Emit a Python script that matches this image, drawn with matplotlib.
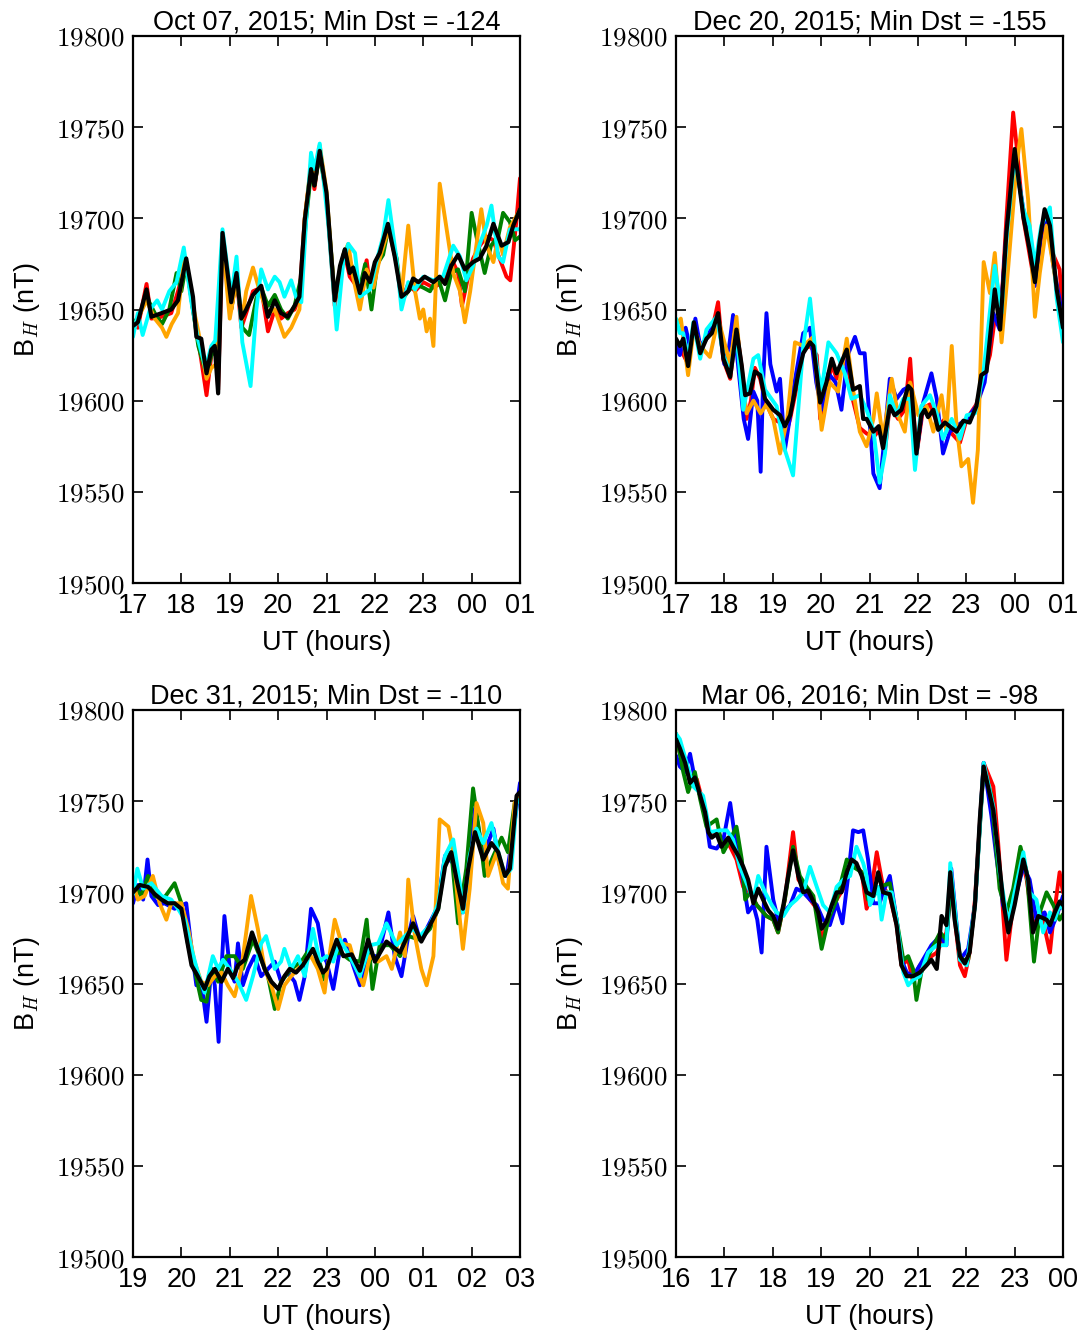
import numpy as np
import matplotlib
matplotlib.use('Agg')
import matplotlib.pyplot as plt

plt.rcParams['font.family'] = ['Liberation Sans', 'DejaVu Sans']
plt.rcParams['mathtext.fontset'] = 'cm'

# ---- panel 1: Oct 07, 2015 (hours after 17 UT) ----
black1_t = [0, 0.1, 0.28, 0.38, 0.59, 0.79, 0.93, 1.10, 1.24, 1.31, 1.41, 1.52, 1.62, 1.69, 1.76, 1.85, 2.03, 2.14, 2.24, 2.34, 2.48, 2.65, 2.79, 2.93, 3.06, 3.20, 3.34, 3.44, 3.55, 3.68, 3.75, 3.86, 4.0, 4.17, 4.28, 4.38, 4.48, 4.55, 4.69, 4.79, 4.90, 5.0, 5.1, 5.27, 5.41, 5.55, 5.69, 5.79, 5.90, 6.03, 6.21, 6.34, 6.45, 6.58, 6.72, 6.86, 7.03, 7.17, 7.31, 7.45, 7.62, 7.76, 7.86, 8.0]
black1_v = [19641, 19643, 19661, 19646, 19648, 19650, 19655, 19678, 19657, 19635, 19634, 19615, 19628, 19630, 19604, 19692, 19654, 19670, 19645, 19650, 19658, 19663, 19646, 19655, 19648, 19646, 19652, 19657, 19699, 19727, 19718, 19737, 19714, 19655, 19674, 19683, 19670, 19673, 19659, 19670, 19665, 19676, 19681, 19697, 19679, 19657, 19660, 19667, 19665, 19668, 19665, 19668, 19664, 19674, 19680, 19672, 19676, 19678, 19685, 19697, 19685, 19687, 19696, 19705]
red1_t = [0, 0.1, 0.28, 0.38, 0.59, 0.79, 0.93, 1.10, 1.24, 1.35, 1.52, 1.62, 1.72, 1.76, 1.85, 2.03, 2.14, 2.24, 2.34, 2.48, 2.65, 2.79, 2.93, 3.06, 3.20, 3.34, 3.44, 3.55, 3.68, 3.75, 3.86, 4.0, 4.17, 4.28, 4.38, 4.48, 4.59, 4.69, 4.83, 4.90, 5.03, 5.17, 5.28, 5.45, 5.55, 5.69, 5.83, 6.0, 6.21, 6.34, 6.45, 6.58, 6.72, 6.80, 6.93, 7.03, 7.17, 7.31, 7.45, 7.55, 7.72, 7.80, 7.93, 8.0]
red1_v = [19643, 19640, 19664, 19645, 19646, 19648, 19660, 19676, 19650, 19633, 19603, 19625, 19628, 19606, 19690, 19650, 19668, 19640, 19648, 19660, 19662, 19638, 19650, 19645, 19648, 19650, 19657, 19700, 19728, 19716, 19738, 19712, 19652, 19672, 19680, 19668, 19664, 19660, 19677, 19662, 19672, 19684, 19696, 19675, 19655, 19664, 19660, 19665, 19662, 19664, 19668, 19678, 19670, 19652, 19668, 19678, 19685, 19690, 19688, 19680, 19668, 19666, 19700, 19722]
green1_t = [0, 0.1, 0.28, 0.45, 0.6, 0.75, 0.9, 1.0, 1.10, 1.24, 1.35, 1.52, 1.62, 1.72, 1.85, 2.03, 2.14, 2.26, 2.40, 2.55, 2.65, 2.79, 2.93, 3.06, 3.20, 3.34, 3.48, 3.58, 3.68, 3.75, 3.86, 4.0, 4.17, 4.28, 4.38, 4.55, 4.69, 4.80, 4.93, 5.05, 5.17, 5.28, 5.45, 5.55, 5.69, 5.83, 6.0, 6.14, 6.30, 6.45, 6.58, 6.72, 6.86, 7.0, 7.10, 7.27, 7.40, 7.55, 7.65, 7.79, 7.9, 8.0]
green1_v = [19643, 19645, 19657, 19648, 19642, 19650, 19670, 19660, 19675, 19650, 19630, 19614, 19625, 19628, 19690, 19650, 19668, 19640, 19636, 19656, 19662, 19652, 19658, 19650, 19645, 19652, 19668, 19700, 19725, 19718, 19735, 19712, 19657, 19672, 19683, 19672, 19662, 19675, 19650, 19675, 19680, 19695, 19678, 19655, 19660, 19664, 19662, 19660, 19668, 19655, 19670, 19672, 19660, 19703, 19690, 19670, 19685, 19690, 19703, 19698, 19688, 19690]
orange1_t = [0, 0.1, 0.28, 0.45, 0.6, 0.69, 0.8, 0.93, 1.06, 1.24, 1.35, 1.52, 1.62, 1.72, 1.85, 2.0, 2.14, 2.26, 2.34, 2.48, 2.62, 2.79, 2.93, 3.13, 3.27, 3.44, 3.55, 3.68, 3.75, 3.86, 4.0, 4.17, 4.35, 4.45, 4.55, 4.69, 4.83, 4.97, 5.1, 5.28, 5.45, 5.55, 5.69, 5.83, 5.93, 6.0, 6.07, 6.14, 6.21, 6.34, 6.45, 6.62, 6.76, 6.86, 6.97, 7.2, 7.31, 7.45, 7.55, 7.65, 7.79, 7.9, 8.0]
orange1_v = [19640, 19645, 19655, 19645, 19640, 19635, 19642, 19648, 19680, 19652, 19638, 19612, 19618, 19620, 19688, 19645, 19666, 19645, 19660, 19673, 19660, 19648, 19650, 19635, 19640, 19650, 19700, 19730, 19720, 19740, 19715, 19655, 19680, 19686, 19668, 19650, 19672, 19662, 19678, 19694, 19676, 19658, 19696, 19660, 19645, 19650, 19638, 19645, 19630, 19719, 19700, 19670, 19660, 19643, 19660, 19705, 19685, 19676, 19690, 19680, 19695, 19700, 19705]
cyan1_t = [0, 0.1, 0.2, 0.35, 0.5, 0.6, 0.75, 0.9, 1.05, 1.2, 1.35, 1.5, 1.62, 1.70, 1.85, 2.03, 2.14, 2.26, 2.43, 2.55, 2.65, 2.79, 2.93, 3.03, 3.13, 3.27, 3.37, 3.48, 3.58, 3.68, 3.75, 3.86, 4.04, 4.21, 4.35, 4.45, 4.59, 4.69, 4.90, 5.03, 5.17, 5.28, 5.45, 5.55, 5.69, 5.83, 6.0, 6.21, 6.41, 6.62, 6.76, 6.89, 7.03, 7.17, 7.31, 7.41, 7.55, 7.65, 7.79, 8.0]
cyan1_v = [19635, 19648, 19636, 19650, 19655, 19650, 19660, 19665, 19684, 19655, 19633, 19618, 19630, 19633, 19694, 19657, 19679, 19632, 19608, 19650, 19672, 19661, 19668, 19665, 19657, 19666, 19657, 19654, 19699, 19736, 19727, 19741, 19696, 19639, 19677, 19686, 19681, 19657, 19661, 19676, 19690, 19710, 19677, 19650, 19665, 19661, 19668, 19666, 19668, 19685, 19679, 19666, 19674, 19686, 19696, 19707, 19679, 19676, 19694, 19694]

# ---- panel 2: Dec 20, 2015 (hours after 17 UT) ----
black2_t = [0, 0.08, 0.15, 0.25, 0.37, 0.50, 0.63, 0.74, 0.87, 0.98, 1.12, 1.25, 1.36, 1.43, 1.53, 1.63, 1.74, 1.84, 2.01, 2.15, 2.25, 2.36, 2.53, 2.63, 2.77, 2.84, 2.98, 3.11, 3.22, 3.32, 3.53, 3.66, 3.80, 3.87, 3.94, 4.08, 4.19, 4.28, 4.42, 4.52, 4.66, 4.80, 4.87, 4.97, 5.07, 5.14, 5.21, 5.32, 5.42, 5.56, 5.70, 5.80, 5.94, 6.07, 6.21, 6.31, 6.42, 6.50, 6.59, 6.70, 6.83, 7.0, 7.18, 7.31, 7.42, 7.52, 7.62, 7.73, 7.87, 8.0]
black2_v = [19634, 19630, 19634, 19619, 19643, 19626, 19634, 19637, 19648, 19623, 19613, 19639, 19619, 19603, 19604, 19616, 19614, 19601, 19595, 19592, 19586, 19592, 19615, 19626, 19632, 19630, 19599, 19610, 19623, 19615, 19628, 19606, 19608, 19590, 19590, 19583, 19586, 19574, 19597, 19592, 19595, 19608, 19606, 19571, 19592, 19595, 19591, 19595, 19584, 19588, 19585, 19583, 19589, 19588, 19597, 19614, 19616, 19637, 19661, 19639, 19692, 19738, 19701, 19683, 19665, 19688, 19705, 19696, 19661, 19640]
red2_t = [0, 0.1, 0.25, 0.37, 0.5, 0.63, 0.74, 0.87, 0.98, 1.12, 1.25, 1.36, 1.46, 1.55, 1.63, 1.74, 1.84, 2.01, 2.15, 2.25, 2.36, 2.53, 2.63, 2.77, 2.91, 2.98, 3.11, 3.22, 3.32, 3.53, 3.66, 3.80, 3.94, 4.08, 4.21, 4.32, 4.42, 4.59, 4.73, 4.84, 4.97, 5.11, 5.25, 5.42, 5.56, 5.70, 5.87, 6.01, 6.21, 6.35, 6.49, 6.59, 6.70, 6.83, 6.97, 7.04, 7.18, 7.31, 7.42, 7.55, 7.66, 7.80, 7.93, 8.0]
red2_v = [19632, 19628, 19620, 19642, 19628, 19634, 19638, 19654, 19622, 19612, 19640, 19618, 19590, 19600, 19618, 19612, 19600, 19590, 19588, 19580, 19590, 19612, 19628, 19630, 19625, 19590, 19605, 19620, 19612, 19625, 19600, 19585, 19582, 19580, 19584, 19572, 19598, 19590, 19595, 19623, 19570, 19596, 19598, 19586, 19590, 19582, 19577, 19590, 19598, 19612, 19625, 19645, 19640, 19700, 19758, 19740, 19700, 19680, 19663, 19690, 19700, 19680, 19672, 19645]
blue2_t = [0, 0.08, 0.2, 0.3, 0.4, 0.5, 0.63, 0.74, 0.87, 1.0, 1.1, 1.18, 1.3, 1.4, 1.49, 1.6, 1.68, 1.75, 1.80, 1.87, 1.95, 2.08, 2.15, 2.25, 2.35, 2.45, 2.63, 2.77, 2.9, 3.01, 3.15, 3.3, 3.42, 3.55, 3.70, 3.80, 3.90, 3.97, 4.08, 4.21, 4.32, 4.42, 4.56, 4.70, 4.84, 4.97, 5.11, 5.28, 5.39, 5.52, 5.66, 5.80, 6.01, 6.21, 6.38, 6.56, 6.69, 6.83, 7.0, 7.18, 7.31, 7.42, 7.55, 7.66, 7.80, 8.0]
blue2_v = [19630, 19625, 19640, 19628, 19645, 19630, 19634, 19640, 19645, 19620, 19630, 19647, 19615, 19590, 19579, 19605, 19600, 19561, 19610, 19648, 19620, 19605, 19612, 19573, 19590, 19610, 19637, 19640, 19610, 19595, 19615, 19610, 19595, 19625, 19635, 19626, 19626, 19601, 19560, 19552, 19583, 19612, 19601, 19606, 19608, 19571, 19599, 19615, 19601, 19571, 19583, 19586, 19590, 19597, 19610, 19648, 19639, 19692, 19734, 19705, 19686, 19663, 19692, 19703, 19674, 19645]
orange2_t = [0, 0.1, 0.25, 0.37, 0.5, 0.7, 0.87, 1.0, 1.12, 1.25, 1.36, 1.46, 1.6, 1.75, 1.87, 2.01, 2.15, 2.3, 2.46, 2.63, 2.84, 3.01, 3.18, 3.35, 3.53, 3.66, 3.80, 3.94, 4.08, 4.15, 4.28, 4.46, 4.59, 4.73, 4.84, 5.01, 5.18, 5.32, 5.49, 5.59, 5.70, 5.80, 5.90, 6.04, 6.14, 6.24, 6.36, 6.49, 6.59, 6.73, 6.87, 7.04, 7.14, 7.28, 7.42, 7.52, 7.66, 7.80, 7.97, 8.0]
orange2_v = [19641, 19645, 19614, 19640, 19630, 19624, 19645, 19632, 19620, 19646, 19610, 19593, 19600, 19593, 19598, 19590, 19571, 19590, 19632, 19630, 19635, 19584, 19610, 19605, 19634, 19606, 19583, 19575, 19590, 19604, 19579, 19612, 19592, 19583, 19610, 19592, 19597, 19583, 19603, 19583, 19630, 19586, 19564, 19568, 19544, 19573, 19676, 19659, 19681, 19632, 19674, 19729, 19749, 19710, 19646, 19670, 19696, 19674, 19643, 19640]
cyan2_t = [0, 0.08, 0.15, 0.25, 0.36, 0.50, 0.63, 0.84, 0.98, 1.12, 1.25, 1.39, 1.60, 1.70, 1.84, 2.08, 2.25, 2.42, 2.63, 2.77, 2.91, 3.01, 3.15, 3.32, 3.49, 3.63, 3.80, 3.94, 4.08, 4.21, 4.32, 4.42, 4.56, 4.70, 4.84, 4.94, 5.07, 5.25, 5.39, 5.52, 5.70, 5.87, 6.01, 6.18, 6.35, 6.59, 6.73, 6.83, 7.0, 7.18, 7.31, 7.42, 7.55, 7.73, 7.87, 8.0]
cyan2_v = [19645, 19637, 19637, 19623, 19643, 19623, 19639, 19646, 19625, 19615, 19637, 19595, 19623, 19625, 19606, 19597, 19573, 19559, 19630, 19656, 19619, 19606, 19632, 19626, 19615, 19601, 19603, 19595, 19584, 19555, 19571, 19603, 19592, 19601, 19601, 19562, 19597, 19603, 19593, 19579, 19590, 19579, 19592, 19593, 19614, 19674, 19648, 19688, 19734, 19705, 19696, 19674, 19696, 19706, 19656, 19632]

# ---- panel 3: Dec 31, 2015 (hours after 19 UT) ----
black3_t = [0, 0.14, 0.31, 0.45, 0.59, 0.72, 0.86, 1.0, 1.10, 1.21, 1.34, 1.48, 1.58, 1.69, 1.83, 1.96, 2.07, 2.17, 2.31, 2.46, 2.58, 2.72, 2.86, 3.0, 3.13, 3.24, 3.37, 3.51, 3.72, 3.82, 3.93, 4.0, 4.21, 4.35, 4.52, 4.69, 4.86, 5.0, 5.24, 5.52, 5.79, 5.96, 6.14, 6.31, 6.45, 6.58, 6.69, 6.82, 6.93, 7.07, 7.24, 7.41, 7.55, 7.69, 7.79, 7.93, 8.0]
black3_v = [19700, 19704, 19703, 19699, 19696, 19694, 19694, 19691, 19676, 19660, 19654, 19647, 19654, 19658, 19651, 19658, 19653, 19660, 19663, 19678, 19669, 19658, 19651, 19647, 19654, 19658, 19656, 19660, 19669, 19662, 19656, 19658, 19674, 19665, 19666, 19657, 19674, 19662, 19673, 19667, 19683, 19673, 19682, 19691, 19714, 19722, 19707, 19691, 19713, 19733, 19718, 19727, 19722, 19709, 19713, 19753, 19755]
blue3_t = [0, 0.10, 0.21, 0.30, 0.38, 0.52, 0.65, 0.86, 1.10, 1.21, 1.31, 1.41, 1.52, 1.62, 1.69, 1.77, 1.83, 1.89, 2.0, 2.10, 2.17, 2.27, 2.38, 2.51, 2.65, 2.79, 2.93, 3.06, 3.20, 3.34, 3.44, 3.55, 3.68, 3.82, 3.93, 4.0, 4.14, 4.28, 4.38, 4.55, 4.69, 4.90, 5.07, 5.28, 5.41, 5.55, 5.69, 5.79, 5.93, 6.07, 6.28, 6.45, 6.62, 6.82, 6.96, 7.07, 7.24, 7.45, 7.58, 7.72, 7.86, 8.0]
blue3_v = [19694, 19704, 19696, 19718, 19698, 19693, 19694, 19691, 19694, 19669, 19649, 19651, 19629, 19658, 19649, 19618, 19658, 19687, 19658, 19651, 19672, 19649, 19658, 19665, 19654, 19658, 19662, 19651, 19656, 19651, 19641, 19654, 19691, 19683, 19665, 19662, 19647, 19669, 19674, 19660, 19649, 19665, 19665, 19689, 19665, 19654, 19676, 19687, 19674, 19680, 19691, 19720, 19716, 19689, 19718, 19746, 19720, 19735, 19715, 19709, 19733, 19760]
green3_t = [0, 0.17, 0.31, 0.45, 0.62, 0.86, 1.0, 1.14, 1.27, 1.41, 1.52, 1.62, 1.76, 1.93, 2.10, 2.27, 2.48, 2.62, 2.79, 2.93, 3.06, 3.27, 3.48, 3.65, 3.82, 3.96, 4.07, 4.28, 4.48, 4.69, 4.83, 4.95, 5.10, 5.31, 5.52, 5.69, 5.93, 6.14, 6.31, 6.45, 6.58, 6.72, 6.89, 7.03, 7.17, 7.27, 7.45, 7.62, 7.75, 7.89, 8.0]
green3_v = [19705, 19698, 19709, 19698, 19696, 19705, 19694, 19671, 19658, 19641, 19640, 19658, 19651, 19665, 19665, 19658, 19674, 19665, 19654, 19636, 19651, 19658, 19662, 19669, 19665, 19652, 19665, 19667, 19663, 19662, 19685, 19647, 19671, 19671, 19665, 19676, 19674, 19680, 19691, 19718, 19722, 19683, 19713, 19757, 19731, 19709, 19720, 19730, 19722, 19749, 19753]
orange3_t = [0, 0.10, 0.24, 0.41, 0.55, 0.69, 0.79, 1.0, 1.14, 1.27, 1.41, 1.55, 1.69, 1.83, 1.96, 2.10, 2.24, 2.44, 2.58, 2.72, 2.86, 3.0, 3.13, 3.27, 3.41, 3.55, 3.68, 3.82, 3.96, 4.0, 4.17, 4.31, 4.48, 4.62, 4.76, 4.90, 5.07, 5.24, 5.35, 5.52, 5.62, 5.69, 5.83, 5.96, 6.07, 6.21, 6.34, 6.52, 6.62, 6.72, 6.82, 6.96, 7.10, 7.24, 7.34, 7.52, 7.65, 7.75, 7.89, 8.0]
orange3_v = [19705, 19696, 19698, 19709, 19694, 19685, 19694, 19694, 19680, 19662, 19651, 19649, 19654, 19656, 19649, 19643, 19658, 19698, 19680, 19658, 19649, 19636, 19649, 19654, 19658, 19662, 19665, 19658, 19645, 19654, 19685, 19672, 19671, 19658, 19649, 19665, 19662, 19665, 19658, 19678, 19665, 19707, 19676, 19658, 19649, 19665, 19740, 19736, 19722, 19694, 19669, 19702, 19749, 19738, 19709, 19722, 19705, 19702, 19749, 19753]
cyan3_t = [0, 0.09, 0.21, 0.38, 0.59, 0.79, 0.93, 1.07, 1.21, 1.34, 1.48, 1.65, 1.76, 1.86, 2.0, 2.17, 2.34, 2.48, 2.65, 2.75, 2.93, 3.06, 3.13, 3.27, 3.41, 3.55, 3.72, 3.86, 4.0, 4.14, 4.28, 4.48, 4.69, 4.90, 5.07, 5.24, 5.45, 5.62, 5.79, 5.93, 6.14, 6.31, 6.45, 6.62, 6.76, 6.82, 6.96, 7.10, 7.24, 7.41, 7.55, 7.69, 7.82, 7.93, 8.0]
cyan3_v = [19699, 19713, 19702, 19705, 19698, 19696, 19691, 19685, 19669, 19656, 19645, 19665, 19658, 19663, 19658, 19651, 19641, 19654, 19672, 19676, 19658, 19662, 19669, 19658, 19665, 19654, 19680, 19662, 19665, 19662, 19674, 19665, 19654, 19671, 19672, 19683, 19671, 19676, 19680, 19676, 19682, 19694, 19720, 19729, 19704, 19689, 19720, 19735, 19727, 19738, 19722, 19709, 19713, 19749, 19751]

# ---- panel 4: Mar 06, 2016 (hours after 16 UT) ----
black4_t = [0, 0.08, 0.19, 0.29, 0.39, 0.50, 0.60, 0.67, 0.74, 0.84, 0.94, 1.08, 1.18, 1.29, 1.39, 1.49, 1.60, 1.70, 1.80, 1.91, 2.01, 2.11, 2.22, 2.32, 2.42, 2.53, 2.63, 2.73, 2.84, 2.94, 3.01, 3.11, 3.22, 3.32, 3.42, 3.53, 3.63, 3.73, 3.84, 3.94, 4.08, 4.18, 4.28, 4.42, 4.56, 4.66, 4.77, 4.90, 5.04, 5.18, 5.28, 5.39, 5.49, 5.59, 5.67, 5.76, 5.87, 5.97, 6.07, 6.18, 6.28, 6.36, 6.45, 6.56, 6.66, 6.76, 6.87, 7.0, 7.18, 7.28, 7.38, 7.49, 7.66, 7.73, 7.83, 7.93, 8.0]
black4_v = [19784, 19779, 19771, 19760, 19763, 19753, 19744, 19733, 19730, 19732, 19725, 19730, 19725, 19720, 19714, 19707, 19694, 19702, 19696, 19690, 19687, 19680, 19693, 19709, 19723, 19709, 19700, 19701, 19695, 19689, 19680, 19684, 19693, 19700, 19700, 19711, 19718, 19716, 19709, 19700, 19698, 19711, 19700, 19699, 19682, 19660, 19654, 19654, 19656, 19660, 19663, 19658, 19687, 19682, 19711, 19685, 19665, 19661, 19667, 19693, 19740, 19769, 19758, 19745, 19722, 19696, 19678, 19693, 19718, 19707, 19678, 19687, 19685, 19682, 19689, 19695, 19693]
red4_t = [0, 0.15, 0.29, 0.43, 0.56, 0.70, 0.84, 0.98, 1.12, 1.25, 1.39, 1.53, 1.67, 1.87, 2.01, 2.11, 2.25, 2.42, 2.53, 2.63, 2.77, 2.91, 3.01, 3.15, 3.32, 3.46, 3.63, 3.73, 3.84, 3.94, 4.01, 4.15, 4.28, 4.42, 4.56, 4.66, 4.80, 4.90, 5.04, 5.18, 5.39, 5.59, 5.69, 5.87, 5.97, 6.07, 6.18, 6.36, 6.56, 6.66, 6.83, 6.97, 7.11, 7.25, 7.38, 7.55, 7.73, 7.80, 7.93, 8.0]
red4_v = [19785, 19769, 19764, 19762, 19749, 19732, 19733, 19729, 19725, 19718, 19703, 19700, 19693, 19687, 19685, 19678, 19696, 19733, 19707, 19703, 19696, 19691, 19674, 19685, 19696, 19702, 19718, 19714, 19711, 19691, 19696, 19722, 19703, 19698, 19682, 19660, 19663, 19651, 19660, 19663, 19667, 19678, 19703, 19660, 19654, 19667, 19696, 19771, 19758, 19727, 19663, 19693, 19722, 19707, 19682, 19689, 19667, 19685, 19711, 19700]
blue4_t = [0, 0.08, 0.19, 0.29, 0.39, 0.50, 0.60, 0.70, 0.84, 0.98, 1.12, 1.25, 1.36, 1.49, 1.60, 1.68, 1.77, 1.87, 2.01, 2.11, 2.22, 2.36, 2.49, 2.63, 2.77, 2.91, 3.04, 3.18, 3.32, 3.44, 3.56, 3.66, 3.77, 3.87, 3.97, 4.08, 4.21, 4.28, 4.42, 4.56, 4.66, 4.77, 4.90, 5.04, 5.28, 5.46, 5.59, 5.69, 5.87, 6.04, 6.18, 6.36, 6.52, 6.62, 6.76, 6.90, 7.07, 7.18, 7.31, 7.45, 7.62, 7.73, 7.87, 8.0]
blue4_v = [19775, 19769, 19766, 19776, 19762, 19753, 19744, 19725, 19724, 19729, 19749, 19724, 19711, 19689, 19693, 19685, 19667, 19725, 19696, 19685, 19689, 19693, 19702, 19700, 19696, 19693, 19685, 19682, 19694, 19683, 19709, 19734, 19733, 19734, 19718, 19694, 19694, 19700, 19709, 19685, 19663, 19656, 19654, 19660, 19671, 19676, 19671, 19713, 19663, 19669, 19693, 19771, 19742, 19720, 19693, 19683, 19703, 19714, 19707, 19685, 19689, 19678, 19687, 19698]
green4_t = [0, 0.15, 0.25, 0.39, 0.50, 0.63, 0.84, 0.98, 1.12, 1.25, 1.36, 1.43, 1.53, 1.67, 1.87, 2.01, 2.11, 2.25, 2.42, 2.56, 2.70, 2.84, 3.01, 3.15, 3.32, 3.53, 3.66, 3.84, 3.97, 4.08, 4.21, 4.42, 4.56, 4.70, 4.80, 4.90, 4.97, 5.07, 5.25, 5.46, 5.59, 5.69, 5.87, 6.04, 6.18, 6.36, 6.52, 6.69, 6.83, 6.97, 7.12, 7.25, 7.40, 7.52, 7.66, 7.80, 7.93, 8.0]
green4_v = [19787, 19766, 19755, 19766, 19751, 19736, 19740, 19722, 19729, 19736, 19718, 19696, 19700, 19693, 19687, 19685, 19678, 19696, 19725, 19709, 19703, 19698, 19669, 19685, 19696, 19718, 19714, 19711, 19696, 19698, 19703, 19705, 19685, 19663, 19665, 19658, 19641, 19656, 19667, 19678, 19674, 19707, 19663, 19663, 19693, 19769, 19753, 19702, 19689, 19702, 19725, 19711, 19662, 19689, 19700, 19693, 19685, 19688]
cyan4_t = [0, 0.08, 0.22, 0.36, 0.56, 0.70, 0.91, 1.05, 1.18, 1.32, 1.46, 1.60, 1.70, 1.84, 1.98, 2.08, 2.22, 2.36, 2.49, 2.63, 2.77, 2.91, 3.04, 3.18, 3.32, 3.46, 3.60, 3.73, 3.87, 3.94, 4.01, 4.18, 4.25, 4.35, 4.46, 4.56, 4.70, 4.80, 4.90, 5.04, 5.21, 5.39, 5.59, 5.67, 5.87, 6.01, 6.18, 6.36, 6.56, 6.69, 6.87, 7.0, 7.18, 7.31, 7.45, 7.59, 7.73, 7.83, 7.93, 8.0]
cyan4_v = [19787, 19784, 19771, 19758, 19753, 19733, 19734, 19734, 19729, 19714, 19705, 19696, 19709, 19700, 19693, 19689, 19687, 19693, 19696, 19700, 19714, 19703, 19693, 19689, 19703, 19707, 19709, 19725, 19716, 19709, 19693, 19703, 19685, 19700, 19700, 19685, 19656, 19649, 19652, 19654, 19667, 19671, 19671, 19716, 19663, 19660, 19693, 19771, 19747, 19711, 19682, 19700, 19722, 19700, 19696, 19678, 19689, 19685, 19693, 19691]

titles = ['Oct 07, 2015; Min Dst = -124', 'Dec 20, 2015; Min Dst = -155',
          'Dec 31, 2015; Min Dst = -110', 'Mar 06, 2016; Min Dst = -98']
hour_labels = [['17', '18', '19', '20', '21', '22', '23', '00', '01'],
               ['17', '18', '19', '20', '21', '22', '23', '00', '01'],
               ['19', '20', '21', '22', '23', '00', '01', '02', '03'],
               ['16', '17', '18', '19', '20', '21', '22', '23', '00']]
yticks = [19500, 19550, 19600, 19650, 19700, 19750, 19800]

panels = [
    [('red', red1_t, red1_v), ('green', green1_t, green1_v), ('orange', orange1_t, orange1_v),
     ('cyan', cyan1_t, cyan1_v), ('black', black1_t, black1_v)],
    [('red', red2_t, red2_v), ('blue', blue2_t, blue2_v), ('orange', orange2_t, orange2_v),
     ('cyan', cyan2_t, cyan2_v), ('black', black2_t, black2_v)],
    [('blue', blue3_t, blue3_v), ('green', green3_t, green3_v), ('orange', orange3_t, orange3_v),
     ('cyan', cyan3_t, cyan3_v), ('black', black3_t, black3_v)],
    [('red', red4_t, red4_v), ('blue', blue4_t, blue4_v), ('green', green4_t, green4_v),
     ('cyan', cyan4_t, cyan4_v), ('black', black4_t, black4_v)],
]

fig = plt.figure(figsize=(10.82, 13.31), dpi=100)
W, H = 1082., 1331.
boxes = [(133, 36), (676, 36), (133, 710), (676, 710)]   # left, top in pixels

for i, (left, top) in enumerate(boxes):
    ax = fig.add_axes([left / W, 1 - (top + 547) / H, 387 / W, 547 / H])
    for color, t, v in panels[i]:
        t = np.asarray(t)
        v = np.asarray(v)
        lw = 3.0 if color == 'black' else 2.8
        ax.plot(t, v, color=color, lw=lw, solid_joinstyle='round', solid_capstyle='round')
    ax.set_xlim(0, 8)
    ax.set_ylim(19500, 19800)
    ax.set_xticks(range(9))
    ax.set_xticklabels(hour_labels[i])
    ax.set_yticks(yticks)
    ax.set_yticklabels(['$%d$' % y for y in yticks])
    ax.tick_params(direction='in', length=7, width=1.2, top=True, right=True,
                   labelsize=19.5)
    ax.tick_params(axis='x', pad=7)
    ax.tick_params(axis='y', pad=6)
    for s in ax.spines.values():
        s.set_linewidth(1.6)
    ax.set_title(titles[i], fontsize=19.5, pad=5)
    ax.set_xlabel('UT (hours)', fontsize=19.5, labelpad=8)
    ax.set_ylabel('B$_H$ (nT)', fontsize=19.5, labelpad=10)

fig.savefig('out.png', dpi=100)
